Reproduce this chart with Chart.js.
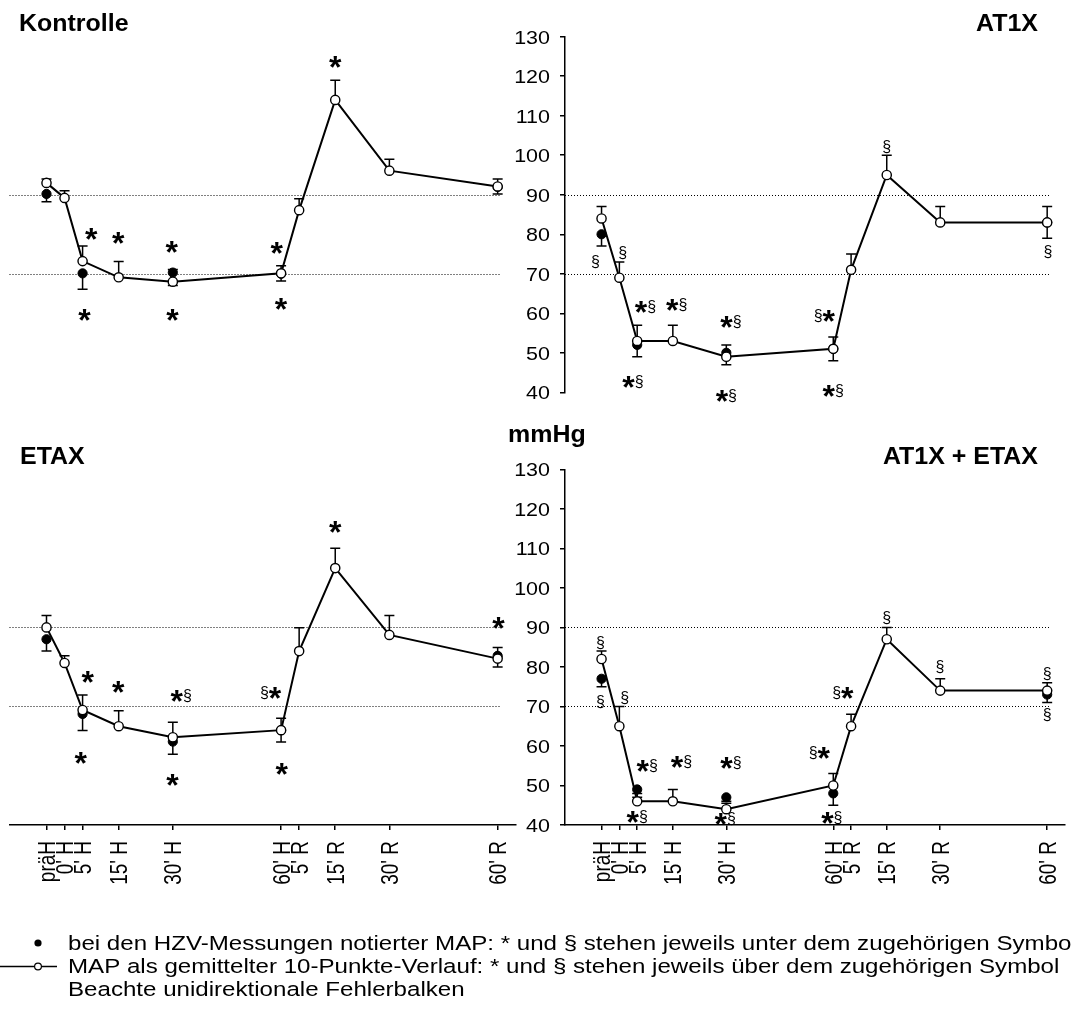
<!DOCTYPE html>
<html>
<head>
<meta charset="utf-8">
<script src="https://cdn.jsdelivr.net/npm/chart.js@4/dist/chart.umd.min.js"></script>
<style>
  html, body { margin: 0; padding: 0; background: #fff; width: 1071px; height: 1021px; overflow: hidden; }
  canvas.panel { position: absolute; left: 0; top: 0; }
</style>
</head>
<body>
<canvas id="pKontrolle" class="panel" width="1071" height="1021"></canvas>
<canvas id="pAT1X" class="panel" width="1071" height="1021"></canvas>
<canvas id="pETAX" class="panel" width="1071" height="1021"></canvas>
<canvas id="pBoth" class="panel" width="1071" height="1021"></canvas>
<script>
// Time axis: minutes relative to start of haemorrhage (H) / reinfusion (R)
const timePoints = [-5, 0, 5, 15, 30, 60, 65, 75, 90, 120];
const timeLabels = ['präH', "0' H", "5' H", "15' H", "30' H", "60' H", "5' R", "15' R", "30' R", "60' R"];
// times of the cardiac output (HZV) measurements
const hzvTimes = [-5, 5, 30, 60, 120];
const yTickValues = [40, 50, 60, 70, 80, 90, 100, 110, 120, 130];
const referenceLevels = [90, 70];

// Kontrolle
const kontrolleMean    = [93, 89.2, 73.2, 69.1, 68, 70.1, 86.1, 114, 96.1, 92.1];
const kontrolleMeanErr = [1, 1.8, 3.8, 4, 3.1, 1.9, 2.9, 5, 2.9, 1.9];
const kontrolleHzv     = [90.2, 70.1, 70.3, 70, 92];
const kontrolleHzvErr  = [2, 4, 3.3, 1.8, 1.8];
const kontrolleMarks = [
  [7.4, 80.0, '*'], [5.5, 59.6, '*'], [14.9, 79.0, '*'], [29.7, 76.7, '*'], [29.9, 59.6, '*'],
  [58.8, 76.4, '*'], [60.0, 62.3, '*'], [75.0, 123.7, '*']
];

// AT1X
const at1xMean    = [84, 69, 53, 53, 49, 51, 71, 95, 83, 83];
const at1xMeanErr = [3, 4, 4, 4, 3, 3, 4, 5, 4, 4];
const at1xHzv     = [80, 52, 50, 51, 83];
const at1xHzvErr  = [3, 3, 3, 3, 4];
const at1xMarks = [
  [-6.7, 72.9, '§'], [0.9, 75.2, '§'], [7.3, 61.5, '*§'], [3.8, 42.5, '*§'], [16.1, 62.0, '*§'],
  [31.3, 57.7, '*§'], [30.0, 39.1, '*§'], [57.5, 59.4, '§*'], [60.0, 40.4, '*§'],
  [75.0, 102.1, '§'], [120.2, 75.5, '§']
];

// ETAX
const etaxMean    = [90, 81, 69.1, 65, 62.2, 64, 84, 105, 88.1, 82.1];
const etaxMeanErr = [3, 1.8, 3.8, 3.9, 3.8, 3, 5.9, 5, 4.9, 2.8];
const etaxHzv     = [87, 68.1, 61.1, 64, 82.8];
const etaxHzvErr  = [3, 4.2, 3.2, 3, 2.8];
const etaxMarks = [
  [6.4, 77.5, '*'], [4.5, 57.0, '*'], [14.9, 74.8, '*'], [32.3, 72.7, '*§'], [29.9, 51.4, '*'],
  [57.1, 73.3, '§*'], [60.2, 54.1, '*'], [75.0, 115.3, '*'], [120.2, 91.2, '*']
];

// AT1X + ETAX
const bothMean    = [82, 65, 46, 46, 44, 50, 65, 87, 74, 74];
const bothMeanErr = [2, 5, 2, 3, 1.5, 3, 3, 3, 3, 2];
const bothHzv     = [77, 49, 47, 48, 73];
const bothHzvErr  = [2, 2, 1, 3, 2];
const bothMarks = [
  [-5.3, 86.0, '§'], [-5.3, 71.2, '§'], [1.5, 72.1, '§'], [7.8, 54.9, '*§'], [5.0, 41.9, '*§'],
  [17.4, 56.0, '*§'], [31.3, 55.6, '*§'], [29.7, 41.4, '*§'], [56.1, 58.1, '§*'], [59.6, 41.7, '*§'],
  [62.7, 73.3, '§*'], [75.0, 92.4, '§'], [89.9, 79.9, '§'], [120.0, 78.1, '§'], [120.0, 67.8, '§']
];

const legendLines = [
  'bei den HZV-Messungen notierter MAP: * und § stehen jeweils unter dem zugehörigen Symbol',
  'MAP als gemittelter 10-Punkte-Verlauf: * und § stehen jeweils über dem zugehörigen Symbol',
  'Beachte unidirektionale Fehlerbalken'
];

const FONT = '"Liberation Sans", Arial, Helvetica, sans-serif';
const PAGE_W = 1071, PAGE_H = 1021;
const X_MIN = -15.25, X_MAX = 125, Y_MIN = 40, Y_MAX = 130;
const panelSetup = {};

function drawStretchedText(ctx, text, x, y, font, align, sx) {
  ctx.save();
  ctx.font = font;
  ctx.textAlign = align;
  ctx.textBaseline = 'alphabetic';
  ctx.translate(x, y);
  ctx.scale(sx, 1);
  ctx.fillText(text, 0, 0);
  ctx.restore();
}

// significance marks: bold asterisk and a smaller paragraph sign, centred on (x, y)
function drawMark(ctx, x, y, text) {
  const parts = Array.from(text).map(ch => ({
    ch, font: ch === '*' ? 'bold 32px ' + FONT : '16px ' + FONT
  }));
  let total = 0;
  parts.forEach(p => {
    ctx.font = p.font;
    const m = ctx.measureText(p.ch);
    p.w = m.width;
    p.asc = m.actualBoundingBoxAscent;
    p.desc = m.actualBoundingBoxDescent;
    total += p.w;
  });
  let cx = x - total / 2;
  ctx.textAlign = 'left';
  ctx.textBaseline = 'alphabetic';
  parts.forEach(p => {
    ctx.font = p.font;
    ctx.fillText(p.ch, cx, y + (p.asc - p.desc) / 2);
    cx += p.w;
  });
}

function drawLegend(ctx) {
  ctx.save();
  ctx.fillStyle = '#000';
  ctx.strokeStyle = '#000';
  // filled marker
  ctx.beginPath();
  ctx.arc(38, 943, 3.6, 0, Math.PI * 2);
  ctx.fill();
  // line with open marker
  ctx.lineWidth = 1.5;
  ctx.beginPath();
  ctx.moveTo(0, 966.5);
  ctx.lineTo(57, 966.5);
  ctx.stroke();
  ctx.beginPath();
  ctx.arc(38, 966.5, 3.4, 0, Math.PI * 2);
  ctx.fillStyle = '#fff';
  ctx.fill();
  ctx.lineWidth = 1.2;
  ctx.stroke();
  ctx.fillStyle = '#000';
  const rows = [943, 966, 989];
  legendLines.forEach((s, i) => {
    drawStretchedText(ctx, s, 68, rows[i] + 0.358 * 19.3, '19.3px ' + FONT, 'left', 1.25);
  });
  // unit of the shared y-axis
  drawStretchedText(ctx, 'mmHg', 508, 442, 'bold 24px ' + FONT, 'left', 1.04);
  ctx.restore();
}

const panelDecor = {
  id: 'panelDecor',
  beforeDatasetsDraw(chart) {
    const { ctx, chartArea, scales: { x, y } } = chart;
    // dotted reference levels
    ctx.save();
    ctx.strokeStyle = '#000';
    ctx.lineWidth = 1;
    ctx.setLineDash([1, 2]);
    referenceLevels.forEach(v => {
      const py = Math.round(y.getPixelForValue(v)) + 0.5;
      ctx.beginPath();
      ctx.moveTo(chartArea.left, py);
      ctx.lineTo(x.getPixelForValue(120.6), py);
      ctx.stroke();
    });
    ctx.restore();
    // one-sided error bars: up for the averaged curve, down for the HZV values
    ctx.save();
    ctx.strokeStyle = '#000';
    ctx.lineWidth = 1.5;
    chart.data.datasets.forEach(ds => {
      ds.data.forEach((p, i) => {
        const e = ds.errors[i];
        if (p.y == null || !e) return;
        const px = x.getPixelForValue(p.x);
        const y0 = y.getPixelForValue(p.y);
        const y1 = y.getPixelForValue(p.y + ds.errDir * e);
        ctx.beginPath();
        ctx.moveTo(px, y0);
        ctx.lineTo(px, y1);
        ctx.moveTo(px - 5, y1);
        ctx.lineTo(px + 5, y1);
        ctx.stroke();
      });
    });
    ctx.restore();
  },
  afterDraw(chart) {
    const { ctx, chartArea, scales: { x, y } } = chart;
    const cfg = panelSetup[chart.canvas.id];
    ctx.save();
    ctx.fillStyle = '#000';
    if (cfg.showY) {
      yTickValues.forEach(v => {
        drawStretchedText(ctx, String(v), chartArea.left - 15, y.getPixelForValue(v) + 0.358 * 19,
          '19px ' + FONT, 'right', 1.13);
      });
    }
    if (cfg.showX) {
      ctx.font = '19px ' + FONT;
      ctx.textAlign = 'right';
      ctx.textBaseline = 'alphabetic';
      timePoints.forEach((t, i) => {
        ctx.save();
        ctx.translate(x.getPixelForValue(t), chartArea.bottom + 16);
        ctx.rotate(-Math.PI / 2);
        ctx.scale(1, 1.25);
        ctx.fillText(timeLabels[i], 0, 0.358 * 19);
        ctx.restore();
      });
    }
    cfg.marks.forEach(([t, v, txt]) => drawMark(ctx, x.getPixelForValue(t), y.getPixelForValue(v), txt));
    drawStretchedText(ctx, cfg.title, cfg.titleX, cfg.titleY, 'bold 24px ' + FONT, cfg.titleAlign, 1.04);
    if (cfg.withLegend) drawLegend(ctx);
    ctx.restore();
  }
};

function makePanel(id, cfg) {
  panelSetup[id] = cfg;
  const yAxisW = cfg.showY ? 40 : 0;
  const xAxisH = cfg.showX ? 60 : 0;
  const axisGrid = { display: true, drawOnChartArea: false, drawTicks: true, tickLength: 5, color: '#000', lineWidth: 1.5 };
  const axisBorder = { display: true, color: '#000', width: 1.5 };
  return new Chart(document.getElementById(id), {
    type: 'scatter',
    data: {
      datasets: [
        {
          label: 'MAP als gemittelter 10-Punkte-Verlauf',
          data: timePoints.map((t, i) => ({ x: t, y: cfg.mean[i] })),
          errors: cfg.meanErr, errDir: 1,
          showLine: true, borderColor: '#000', borderWidth: 2,
          pointRadius: 4.6, pointBackgroundColor: '#fff', pointBorderColor: '#000', pointBorderWidth: 1.4,
          clip: false, order: 0
        },
        {
          label: 'bei den HZV-Messungen notierter MAP',
          data: hzvTimes.map((t, i) => ({ x: t, y: cfg.hzv[i] })),
          errors: cfg.hzvErr, errDir: -1,
          showLine: false,
          pointRadius: 4.6, pointBackgroundColor: '#000', pointBorderColor: '#000', pointBorderWidth: 1,
          clip: false, order: 1
        }
      ]
    },
    options: {
      responsive: false,
      animation: false,
      devicePixelRatio: 1,
      events: [],
      layout: {
        padding: {
          left: cfg.left - yAxisW,
          right: PAGE_W - cfg.right,
          top: cfg.top,
          bottom: PAGE_H - cfg.bottom - xAxisH
        }
      },
      plugins: { legend: { display: false }, tooltip: { enabled: false }, title: { display: false } },
      scales: {
        x: {
          type: 'linear', min: X_MIN, max: X_MAX, display: cfg.showX,
          afterBuildTicks: s => { s.ticks = timePoints.map(v => ({ value: v })); },
          afterFit: s => { s.height = xAxisH; },
          grid: axisGrid, border: axisBorder, ticks: { display: false }
        },
        y: {
          type: 'linear', min: Y_MIN, max: Y_MAX, display: cfg.showY,
          afterBuildTicks: s => { s.ticks = yTickValues.map(v => ({ value: v })); },
          afterFit: s => { s.width = yAxisW; },
          grid: axisGrid, border: axisBorder, ticks: { display: false }
        }
      }
    },
    plugins: [panelDecor]
  });
}

const LEFT = { left: 9.5, right: 515.7 };
const RIGHT = { left: 565, right: 1071 };
const TOP = { top: 36.7, bottom: 392.3 };
const BOTTOM = { top: 469.3, bottom: 825 };

makePanel('pKontrolle', Object.assign({}, LEFT, TOP, {
  showX: false, showY: false, mean: kontrolleMean, meanErr: kontrolleMeanErr,
  hzv: kontrolleHzv, hzvErr: kontrolleHzvErr, marks: kontrolleMarks,
  title: 'Kontrolle', titleX: 19, titleY: 31, titleAlign: 'left'
}));
makePanel('pAT1X', Object.assign({}, RIGHT, TOP, {
  showX: false, showY: true, mean: at1xMean, meanErr: at1xMeanErr,
  hzv: at1xHzv, hzvErr: at1xHzvErr, marks: at1xMarks,
  title: 'AT1X', titleX: 1038, titleY: 31, titleAlign: 'right'
}));
makePanel('pETAX', Object.assign({}, LEFT, BOTTOM, {
  showX: true, showY: false, mean: etaxMean, meanErr: etaxMeanErr,
  hzv: etaxHzv, hzvErr: etaxHzvErr, marks: etaxMarks,
  title: 'ETAX', titleX: 20, titleY: 463.5, titleAlign: 'left'
}));
makePanel('pBoth', Object.assign({}, RIGHT, BOTTOM, {
  showX: true, showY: true, mean: bothMean, meanErr: bothMeanErr,
  hzv: bothHzv, hzvErr: bothHzvErr, marks: bothMarks,
  title: 'AT1X + ETAX', titleX: 1038, titleY: 463.5, titleAlign: 'right',
  withLegend: true
}));
</script>
</body>
</html>
